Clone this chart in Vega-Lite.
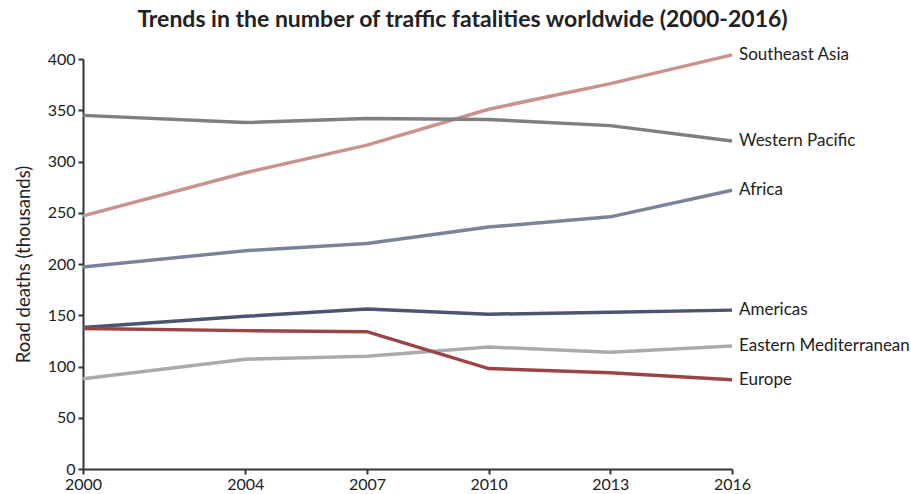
{
  "$schema": "https://vega.github.io/schema/vega-lite/v6.json",
  "width": 649,
  "height": 410,
  "autosize": {"type": "none"},
  "padding": {"left": 83, "top": 59, "right": 179, "bottom": 25},
  "background": "white",
  "title": {
    "text": "Trends in the number of traffic fatalities worldwide (2000-2016)",
    "font": "Lato",
    "fontSize": 23,
    "fontWeight": "bold",
    "color": "#222222",
    "anchor": "middle",
    "dx": 55,
    "offset": 14
  },
  "config": {
    "view": {"stroke": null},
    "font": "Lato"
  },
  "data": {
    "values": [
      {"region": "Southeast Asia", "year": 2000, "deaths": 247},
      {"region": "Southeast Asia", "year": 2004, "deaths": 289},
      {"region": "Southeast Asia", "year": 2007, "deaths": 316},
      {"region": "Southeast Asia", "year": 2010, "deaths": 351},
      {"region": "Southeast Asia", "year": 2013, "deaths": 376},
      {"region": "Southeast Asia", "year": 2016, "deaths": 404},
      {"region": "Western Pacific", "year": 2000, "deaths": 345},
      {"region": "Western Pacific", "year": 2004, "deaths": 338},
      {"region": "Western Pacific", "year": 2007, "deaths": 342},
      {"region": "Western Pacific", "year": 2010, "deaths": 341},
      {"region": "Western Pacific", "year": 2013, "deaths": 335},
      {"region": "Western Pacific", "year": 2016, "deaths": 320},
      {"region": "Africa", "year": 2000, "deaths": 197},
      {"region": "Africa", "year": 2004, "deaths": 213},
      {"region": "Africa", "year": 2007, "deaths": 220},
      {"region": "Africa", "year": 2010, "deaths": 236},
      {"region": "Africa", "year": 2013, "deaths": 246},
      {"region": "Africa", "year": 2016, "deaths": 272},
      {"region": "Americas", "year": 2000, "deaths": 138},
      {"region": "Americas", "year": 2004, "deaths": 149},
      {"region": "Americas", "year": 2007, "deaths": 156},
      {"region": "Americas", "year": 2010, "deaths": 151},
      {"region": "Americas", "year": 2013, "deaths": 153},
      {"region": "Americas", "year": 2016, "deaths": 155},
      {"region": "Eastern Mediterranean", "year": 2000, "deaths": 88},
      {"region": "Eastern Mediterranean", "year": 2004, "deaths": 107},
      {"region": "Eastern Mediterranean", "year": 2007, "deaths": 110},
      {"region": "Eastern Mediterranean", "year": 2010, "deaths": 119},
      {"region": "Eastern Mediterranean", "year": 2013, "deaths": 114},
      {"region": "Eastern Mediterranean", "year": 2016, "deaths": 120},
      {"region": "Europe", "year": 2000, "deaths": 137},
      {"region": "Europe", "year": 2004, "deaths": 135},
      {"region": "Europe", "year": 2007, "deaths": 134},
      {"region": "Europe", "year": 2010, "deaths": 98},
      {"region": "Europe", "year": 2013, "deaths": 94},
      {"region": "Europe", "year": 2016, "deaths": 87}
    ]
  },
  "encoding": {
    "x": {
      "field": "year",
      "type": "quantitative",
      "scale": {"domain": [2000, 2016], "nice": false, "zero": false},
      "axis": {
        "title": null,
        "values": [2000, 2004, 2007, 2010, 2013, 2016],
        "format": "d",
        "grid": false,
        "domainColor": "#333333",
        "domainWidth": 2,
        "tickColor": "#333333",
        "tickWidth": 2,
        "tickSize": 5,
        "labelFont": "Lato",
        "labelFontSize": 16,
        "labelColor": "#222222",
        "labelPadding": 2,
        "labelFlush": false
      }
    },
    "y": {
      "field": "deaths",
      "type": "quantitative",
      "scale": {"domain": [0, 400], "nice": false},
      "axis": {
        "title": "Road deaths (thousands)",
        "titleFont": "Lato",
        "titleFontSize": 18.5,
        "titleFontWeight": "normal",
        "titleColor": "#222222",
        "titlePadding": 14,
        "values": [0, 50, 100, 150, 200, 250, 300, 350, 400],
        "grid": false,
        "domainColor": "#333333",
        "domainWidth": 2,
        "tickColor": "#333333",
        "tickWidth": 2,
        "tickSize": 5,
        "labelFont": "Lato",
        "labelFontSize": 16,
        "labelColor": "#222222",
        "labelPadding": 3
      }
    },
    "color": {
      "field": "region",
      "type": "nominal",
      "legend": null,
      "scale": {
        "domain": ["Southeast Asia", "Western Pacific", "Africa", "Americas", "Eastern Mediterranean", "Europe"],
        "range": ["#c9928c", "#7f7f81", "#7a8499", "#4a5670", "#aaaaac", "#9b4445"]
      }
    }
  },
  "layer": [
    {
      "mark": {"type": "line", "strokeWidth": 3.5, "clip": false},
      "encoding": {"detail": {"field": "region"}}
    },
    {
      "transform": [{"filter": "datum.year == 2016"}],
      "mark": {"type": "text", "align": "left", "dx": 7, "fontSize": 17, "font": "Lato", "baseline": "middle"},
      "encoding": {
        "text": {"field": "region"},
        "color": {"value": "#222222"}
      }
    }
  ]
}
